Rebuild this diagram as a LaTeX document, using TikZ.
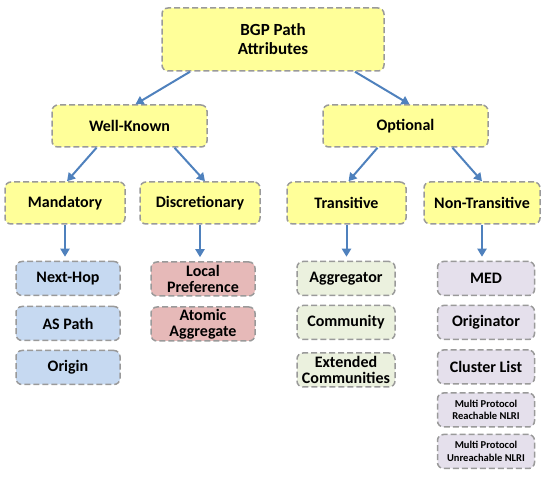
\documentclass[tikz,border=0pt]{standalone}
\usepackage{fontspec}
\setmainfont{Carlito}
\usepackage{tikz}
\usetikzlibrary{
	shapes,
	calc,
	arrows.meta}

\definecolor{boxyellow}{HTML}{FFFF99}
\definecolor{boxblue}{HTML}{C6D9F1}
\definecolor{boxred}{HTML}{E6B9B8}
\definecolor{boxgreen}{HTML}{EBF1DE}
\definecolor{boxpurple}{HTML}{E5E0EC}
\definecolor{edgegray}{HTML}{9A9A9A}
\definecolor{arrowblue}{HTML}{4F81BD}

\begin{document}
\begin{tikzpicture}[x=1pt,y=-1pt,auto,every text node part/.style={align=center},
  box/.style={rectangle,rounded corners=6pt,draw=edgegray,line width=1.5pt,
    dash pattern=on 6pt off 3pt,font=\bfseries\fontsize{16}{16}\selectfont,
    inner sep=0pt},
  topbox/.style={box,fill=boxyellow,minimum height=42pt},
  leafbox/.style={box,minimum height=34pt,minimum width=104pt},
  bluebox/.style={leafbox,fill=boxblue},
  redbox/.style={leafbox,fill=boxred},
  greenbox/.style={leafbox,fill=boxgreen,minimum width=98pt},
  purplebox/.style={leafbox,fill=boxpurple,minimum width=97pt},
  smalltext/.style={font=\bfseries\fontsize{10.5}{12.5}\selectfont},
  arr/.style={-{Triangle[length=8pt,width=9pt]},draw=arrowblue,line width=2pt}]
  \useasboundingbox (0,0) rectangle (547,478);

  % Root
  \node[topbox,minimum width=222pt,minimum height=63pt,font=\bfseries\fontsize{17}{19}\selectfont] (root) at (273,39.5) {BGP Path\\Attributes};

  % First level
  \node[topbox,minimum width=155pt] (wellknown) at (129.5,126) {Well-Known};
  \node[topbox,minimum width=165pt] (optional) at (405.5,126) {Optional};

  % Second level
  \node[topbox,minimum width=120pt] (mandatory) at (65,203) {Mandatory};
  \node[topbox,minimum width=120pt] (discretionary) at (200,203) {Discretionary};
  \node[topbox,minimum width=119pt] (transitive) at (346.5,203) {Transitive};
  \node[topbox,minimum width=116pt] (nontransitive) at (482,203) {Non-Transitive};

  % Mandatory attributes
  \node[bluebox] (nexthop) at (68,278.5) {Next-Hop};
  \node[bluebox] (aspath) at (68,323.5) {AS Path};
  \node[bluebox] (origin) at (68,367.5) {Origin};

  % Discretionary attributes
  \node[redbox] (localpref) at (203,279) {Local\\Preference};
  \node[redbox] (atomic) at (203,324) {Atomic\\Aggregate};

  % Transitive attributes
  \node[greenbox] (aggregator) at (346,278.5) {Aggregator};
  \node[greenbox] (community) at (346,322.5) {Community};
  \node[greenbox] (extcomm) at (346,370) {Extended\\Communities};

  % Non-transitive attributes
  \node[purplebox] (med) at (486,278.5) {MED};
  \node[purplebox] (originator) at (486,322.5) {Originator};
  \node[purplebox] (clusterlist) at (486,367) {Cluster List};
  \node[purplebox,smalltext] (mpreach) at (486,410) {Multi Protocol\\Reachable NLRI};
  \node[purplebox,smalltext] (mpunreach) at (486,451.5) {Multi Protocol\\Unreachable NLRI};

  \draw [arr] ([xshift=-83pt]root.south)      to ([xshift=6pt]wellknown.north);
  \draw [arr] ([xshift=82pt]root.south)       to ([xshift=4pt]optional.north);
  \draw [arr] ([xshift=-33pt]wellknown.south) to ([xshift=2pt]mandatory.north);
  \draw [arr] ([xshift=45pt]wellknown.south)  to ([xshift=5pt]discretionary.north);
  \draw [arr] ([xshift=-28pt]optional.south)  to ([xshift=2pt]transitive.north);
  \draw [arr] ([xshift=47pt]optional.south)   to (nontransitive.north);
  \draw [arr,shorten >=4pt] (mandatory.south)     to (mandatory.south |- nexthop.north);
  \draw [arr,shorten >=4pt] (discretionary.south) to (discretionary.south |- localpref.north);
  \draw [arr,shorten >=4pt] (transitive.south)    to (transitive.south |- aggregator.north);
  \draw [arr,shorten >=4pt] (nontransitive.south) to (nontransitive.south |- med.north);
\end{tikzpicture}
\end{document}
